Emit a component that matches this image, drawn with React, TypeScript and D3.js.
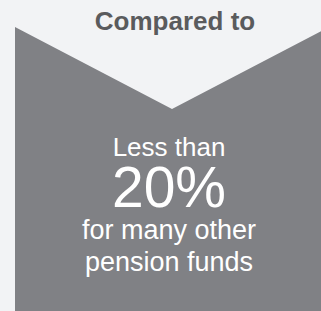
import React, { useEffect, useRef } from "react";
import * as d3 from "d3";

const header = "Compared to";
const lines = ["Less than", "20%", "for many other", "pension funds"];
const lineSizes = [26, 57, 27, 27];

const App = ({ width = 321, height = 311 }) => {
  const ref = useRef(null);

  useEffect(() => {
    const svg = d3.select(ref.current);
    svg.selectAll("*").remove();

    svg.append("rect").attr("width", width).attr("height", height).attr("fill", "#f2f3f5");

    // chevron panel with a V notch cut into the top
    const left = 15, right = 329, top = 27, apex = 109;
    const mid = (left + right) / 2;
    const pts = [
      [left, top],
      [mid, apex],
      [right, top],
      [right, height + 5],
      [left, height + 5],
    ];
    svg
      .append("path")
      .attr("d", d3.line()(pts) + "Z")
      .attr("fill", "#808185");

    svg
      .append("text")
      .attr("x", 175)
      .attr("y", 30)
      .attr("text-anchor", "middle")
      .style("font-family", "'Liberation Sans', Arial, sans-serif")
      .style("font-weight", "bold")
      .style("font-size", "26px")
      .attr("fill", "#5a5b5d")
      .text(header);

    const baselines = [156, 207, 239, 271];
    svg
      .selectAll("text.body")
      .data(lines)
      .enter()
      .append("text")
      .attr("class", "body")
      .attr("x", 169)
      .attr("y", (d, i) => baselines[i])
      .attr("text-anchor", "middle")
      .style("font-family", "'Liberation Sans', Arial, sans-serif")
      .style("font-size", (d, i) => lineSizes[i] + "px")
      .attr("fill", "#ffffff")
      .text((d) => d);
  });

  return (
    <svg
      ref={ref}
      width={width}
      height={height}
      style={{ position: "absolute", left: 0, top: 0 }}
    ></svg>
  );
};

export default App;
